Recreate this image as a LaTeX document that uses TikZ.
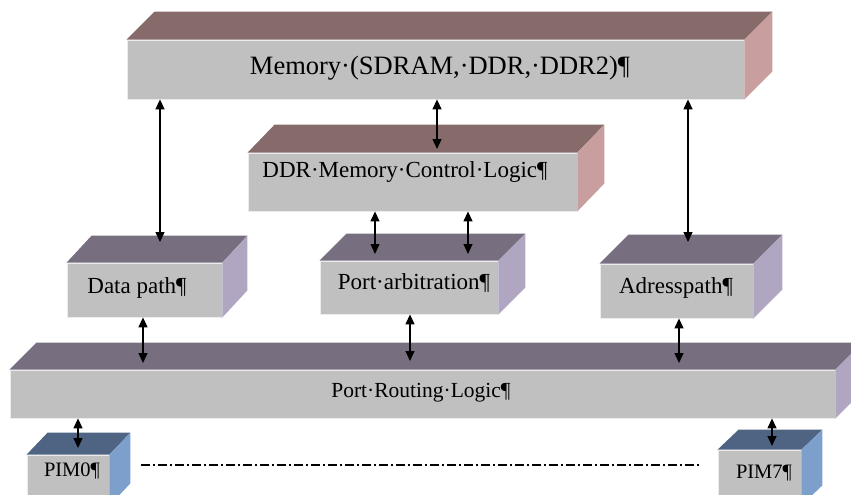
\documentclass[tikz,border=0pt]{standalone}
\usepackage{fontspec}
\setmainfont{Liberation Serif}
\usetikzlibrary{arrows.meta}
\definecolor{frontc}{HTML}{C0C0C0}
\definecolor{memtop}{HTML}{876B6B}
\definecolor{memside}{HTML}{C89E9E}
\definecolor{purtop}{HTML}{776F80}
\definecolor{purside}{HTML}{B0A6C2}
\definecolor{pimtop}{HTML}{4E6482}
\definecolor{pimside}{HTML}{7C9FCB}
\newcommand\fsz[1]{\fontsize{#1}{#1}\selectfont}
\newcommand\boxfaces[4]{%
  \fill[#4top] (#1.north west) -- ++(#2,-#3) -- ([shift={(#2,-#3)}]#1.north east) -- (#1.north east) -- cycle;
  \fill[#4side] (#1.north east) -- ++(#2,-#3) -- ([shift={(#2,-#3)}]#1.south east) -- (#1.south east) -- cycle;}
\begin{document}
\begin{tikzpicture}[x=1pt,y=-1pt,
  front/.style={fill=frontc, draw=white!70!frontc, line width=0.8pt, inner sep=0pt},
  lbl/.style={inner sep=0pt, text=black},
  conn/.style={line width=1.3pt, {Triangle[length=10pt,width=9pt]}-{Triangle[length=10pt,width=9pt]}},
  dashdotline/.style={line width=1.3pt, dash pattern=on 9pt off 3pt on 2pt off 3pt}]
\useasboundingbox (0,0) rectangle (851,495);
\clip (0,0) rectangle (851,495);
% front faces
\node[front, minimum width=617pt, minimum height=59pt] (mem) at (435.5,69.5) {};
\node[front, minimum width=329pt, minimum height=58pt] (ddr) at (412.5,182) {};
\node[front, minimum width=155pt, minimum height=54pt] (dp) at (144.5,290) {};
\node[front, minimum width=178pt, minimum height=53pt] (pa) at (409,287.5) {};
\node[front, minimum width=153pt, minimum height=54pt] (ad) at (676.5,291) {};
\node[front, minimum width=825pt, minimum height=48pt] (prl) at (422.5,394) {};
\node[front, minimum width=82pt, minimum height=50pt] (pim0) at (68,480) {};
\node[front, minimum width=83pt, minimum height=55pt] (pim7) at (759.5,477.5) {};
% top and side faces
\boxfaces{mem}{28}{28}{mem}
\boxfaces{ddr}{27}{28}{mem}
\boxfaces{dp}{25}{27}{pur}
\boxfaces{pa}{27}{27}{pur}
\boxfaces{ad}{29}{29}{pur}
\boxfaces{prl}{27}{27}{pur}
\boxfaces{pim0}{21}{22}{pim}
\boxfaces{pim7}{21}{20}{pim}
% labels
\node[lbl, font=\fsz{26.5}] (memt) at (440,68) {Memory·(SDRAM,·DDR,·DDR2)¶};
\node[lbl, font=\fsz{23}] (ddrt) at (405,172) {DDR·Memory·Control·Logic¶};
\node[lbl, font=\fsz{23}] (dpt) at (137,288) {Data path¶};
\node[lbl, font=\fsz{23}] (pat) at (414,283) {Port·arbitration¶};
\node[lbl, font=\fsz{23}] (adt) at (676,288) {Adresspath¶};
\node[lbl, font=\fsz{21.5}] (prlt) at (421,393) {Port·Routing·Logic¶};
\node[lbl, font=\fsz{20.5}] (pim0t) at (72,471) {PIM0¶};
\node[lbl, font=\fsz{20.5}] (pim7t) at (764,473) {PIM7¶};
% connector end points on top faces
\coordinate (a1) at (160,242);
\coordinate (a2) at (437,149);
\coordinate (a3) at (688,242);
\coordinate (b1) at (375,254);
\coordinate (b2) at (468,254);
\coordinate (c1) at (143,363);
\coordinate (c2) at (410,361);
\coordinate (c3) at (679,363);
\coordinate (e1) at (78,448);
\coordinate (e2) at (772,446);
\coordinate (d1) at (141,465);
\coordinate (d2) at (700,465);
% connectors
\draw[conn] (mem.south -| a1) -- (a1);
\draw[conn] (mem.south -| a2) -- (a2);
\draw[conn] (mem.south -| a3) -- (a3);
\draw[conn] (ddr.south -| b1) -- (b1);
\draw[conn] (ddr.south -| b2) -- (b2);
\draw[conn] (dp.south -| c1) -- (c1);
\draw[conn] (pa.south -| c2) -- (c2);
\draw[conn] (ad.south -| c3) -- (c3);
\draw[conn] (prl.south -| e1) -- (e1);
\draw[conn] (prl.south -| e2) -- (e2);
\draw[dashdotline] (d1) -- (d2);
\end{tikzpicture}
\end{document}
